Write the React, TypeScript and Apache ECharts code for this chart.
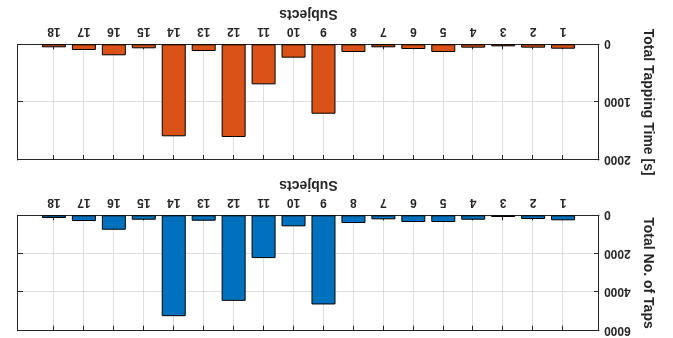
import React, { useEffect, useRef } from "react";
import * as echarts from "echarts";

const subjects = [1, 2, 3, 4, 5, 6, 7, 8, 9, 10, 11, 12, 13, 14, 15, 16, 17, 18];
const tappingTime = [76, 58, 35, 58, 133, 81, 52, 133, 1200, 231, 692, 1602, 116, 1590, 69, 190, 98, 52];
const numTaps = [260, 193, 88, 229, 349, 349, 208, 401, 4635, 573, 2224, 4448, 281, 5245, 229, 750, 297, 140];
const timeTicks = [0, 1000, 2000];
const tapTicks = [0, 2000, 4000, 6000];

const FONT = "'Liberation Sans', Arial, Helvetica, sans-serif";
const AX = "#262626";
const GRID = "#dfdfdf";

export default function App() {
  const ref = useRef<HTMLDivElement>(null);
  useEffect(() => {
    if (!ref.current) return;
    const chart = echarts.init(ref.current, undefined, { renderer: "svg" });

    const xMain = (gi: number) => ({
      type: "value",
      gridIndex: gi,
      min: -0.2,
      max: 19.2,
      name: "Subjects",
      nameLocation: "middle",
      nameGap: 22,
      nameTextStyle: { fontFamily: FONT, fontWeight: "bold", fontSize: 14, color: AX },
      axisLine: { show: true, onZero: false, lineStyle: { color: AX, width: 1 } },
      axisTick: { show: true, inside: true, length: 5, customValues: subjects, lineStyle: { color: AX } },
      axisLabel: { show: true, customValues: subjects, margin: 6, fontFamily: FONT, fontWeight: "bold", fontSize: 12, color: AX },
      splitLine: { show: true, lineStyle: { color: GRID, width: 1 } },
    });
    const xTop = (gi: number) => ({
      type: "value",
      gridIndex: gi,
      position: "top",
      min: -0.2,
      max: 19.2,
      axisLine: { show: true, onZero: false, lineStyle: { color: AX, width: 1 } },
      axisTick: { show: true, inside: true, length: 5, customValues: subjects, lineStyle: { color: AX } },
      axisLabel: { show: false },
      splitLine: { show: false },
    });
    const yMain = (gi: number, max: number, interval: number, name: string, ticks: number[]) => ({
      type: "value",
      gridIndex: gi,
      min: 0,
      max,
      interval,
      name,
      nameLocation: "middle",
      nameGap: 35,
      nameTextStyle: { fontFamily: FONT, fontWeight: "bold", fontSize: 14, color: AX },
      axisLine: { show: true, onZero: false, lineStyle: { color: AX, width: 1 } },
      axisTick: { show: true, inside: true, length: 5, lineStyle: { color: AX } },
      axisLabel: {
        show: true,
        margin: 5,
        fontFamily: FONT,
        fontWeight: "bold",
        fontSize: 12,
        color: AX,
        formatter: (v: number) => (ticks.includes(v) ? String(v) : ""),
      },
      splitLine: { show: true, lineStyle: { color: GRID, width: 1 } },
    });
    const yRight = (gi: number, max: number, interval: number) => ({
      type: "value",
      gridIndex: gi,
      position: "right",
      min: 0,
      max,
      interval,
      axisLine: { show: true, onZero: false, lineStyle: { color: AX, width: 1 } },
      axisTick: { show: true, inside: true, length: 5, lineStyle: { color: AX } },
      axisLabel: { show: false },
      splitLine: { show: false },
    });

    chart.setOption({
      animation: false,
      backgroundColor: "#ffffff",
      grid: [
        { left: 74, right: 18, top: 7.3, height: 115.4 },
        { left: 74, right: 18, top: 178, height: 115.7 },
      ],
      xAxis: [xMain(0), xTop(0), xMain(1), xTop(1)],
      yAxis: [
        yMain(0, 6000, 2000, "Total No. of Taps", tapTicks),
        yRight(0, 6000, 2000),
        yMain(1, 2000, 1000, "Total Tapping Time [s]", timeTicks),
        yRight(1, 2000, 1000),
      ],
      series: [
        {
          type: "bar",
          xAxisIndex: 0,
          yAxisIndex: 0,
          barWidth: 24,
          data: subjects.map((s, i) => [s, numTaps[i]]),
          itemStyle: { color: "#0072BD", borderColor: "#000000", borderWidth: 1 },
        },
        {
          type: "bar",
          xAxisIndex: 2,
          yAxisIndex: 2,
          barWidth: 24,
          data: subjects.map((s, i) => [s, tappingTime[i]]),
          itemStyle: { color: "#D95319", borderColor: "#000000", borderWidth: 1 },
        },
      ],
    });
    return () => chart.dispose();
  }, []);

  return (
    <div
      ref={ref}
      style={{
        position: "fixed",
        left: 0,
        top: 0,
        width: 673,
        height: 338,
        transform: "rotate(180deg)",
        background: "#ffffff",
      }}
    />
  );
}
